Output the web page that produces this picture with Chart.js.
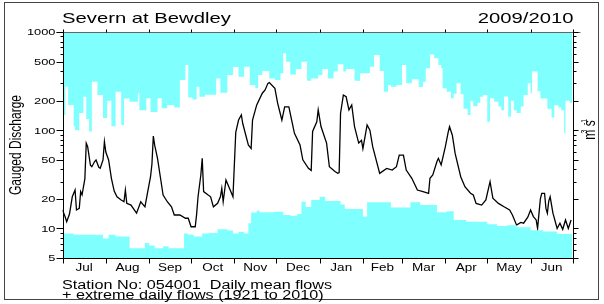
<!DOCTYPE html>
<html>
<head>
<meta charset="utf-8">
<script src="https://cdn.jsdelivr.net/npm/chart.js@4.4.1/dist/chart.umd.min.js"></script>
<style>
  body { margin: 0; background: #fff; }
</style>
</head>
<body>
<canvas id="chart" width="604" height="304"></canvas>
<script>
const monthLabels = ['Jul', 'Aug', 'Sep', 'Oct', 'Nov', 'Dec', 'Jan', 'Feb', 'Mar', 'Apr', 'May', 'Jun'];
const monthDays = [31, 31, 30, 31, 30, 31, 31, 28, 31, 30, 31, 30];
const yLabels = [5, 10, 20, 50, 100, 200, 500, 1000];
const yMinor = [6, 7, 8, 9, 30, 40, 60, 70, 80, 90, 300, 400, 600, 700, 800, 900];

// daily mean flow (day of water year, m3/s)
const meanDay = [0, 2, 3, 5, 7, 9, 10, 12, 13, 14, 16, 17, 18, 20, 21, 23, 24, 26, 27, 29, 30, 31, 33, 35, 37, 39, 42, 44, 45, 46, 49, 53, 56, 59, 61, 63, 64, 65, 66, 68, 70, 72, 75, 78, 80, 84, 88, 90, 92, 95, 96, 97, 99, 100, 101, 104, 106, 108, 111, 113, 114, 115, 117, 120, 122, 124, 126, 128, 129, 133, 135, 136, 139, 143, 145, 147, 148, 152, 154, 157, 159, 162, 164, 166, 170, 172, 176, 178, 179, 182, 183, 185, 189, 191, 195, 197, 198, 199, 201, 203, 205, 207, 209, 212, 214, 215, 218, 220, 222, 227, 232, 236, 239, 241, 244, 246, 250, 254, 258, 262, 263, 265, 268, 269, 271, 274, 276, 277, 279, 281, 285, 288, 292, 294, 296, 300, 303, 305, 306, 308, 312, 316, 320, 322, 325, 328, 330, 333, 335, 337, 339, 340, 342, 343, 345, 346, 347, 348, 349, 351, 354, 356, 358, 360, 362, 364];
const meanFlow = [15.4, 13, 11.7, 14, 21, 24.6, 15.4, 16, 23.7, 22, 32, 73.6, 68, 44, 42.5, 48, 49.8, 42, 41, 49.8, 76.4, 60, 49.8, 32.4, 24, 21, 19.5, 18.7, 24.6, 18, 17.3, 14.3, 18.7, 16.6, 23.7, 33.6, 45, 87, 70, 51.7, 33.6, 21.9, 18.7, 16.6, 13.7, 13.7, 12.7, 12.7, 10.4, 10.4, 14, 21, 35, 51.7, 23.7, 22, 21, 16.6, 18, 21, 25.6, 18.7, 31.1, 24.6, 21, 95, 127, 143, 117, 70.7, 65, 127, 181, 238, 257, 300, 305, 267, 188, 127, 173, 173, 127, 93, 70.7, 50, 41, 39, 97, 122, 161, 109, 74, 42.5, 38, 36.4, 37, 149, 228, 219, 161, 181, 109, 74, 79, 65, 113, 100, 68, 36.4, 40.9, 39.3, 42.5, 55.9, 55.9, 39.3, 32.4, 24.6, 23.7, 22.8, 32.4, 35, 48, 51.7, 44.3, 68, 95, 108.6, 89, 58, 33.6, 26.6, 22.8, 21.9, 18, 17.3, 19.5, 26, 29.9, 20.3, 18, 16.6, 15.4, 13.7, 10.8, 11.5, 11.3, 13, 15.4, 13.2, 12.2, 10, 20, 22.8, 22.8, 16, 14.3, 19, 21, 14.3, 10, 11.3, 9.8, 12.2, 10, 12.2];

// extreme daily flows 1921-2010
const maxDay = [0, 2, 4, 8, 9, 12, 15, 17, 19, 21, 25, 29, 32, 35, 38, 42, 44, 48, 54, 55, 60, 63, 68, 71, 75, 80, 84, 88, 90, 93, 96, 98, 102, 110, 113, 118, 122, 126, 130, 134, 138, 140, 143, 148, 152, 156, 158, 160, 163, 167, 171, 175, 178, 183, 186, 190, 194, 197, 201, 203, 209, 213, 216, 220, 223, 227, 230, 233, 235, 239, 243, 246, 250, 255, 258, 260, 263, 266, 269, 271, 272, 275, 278, 280, 282, 285, 287, 290, 292, 294, 297, 299, 301, 304, 306, 309, 312, 314, 316, 319, 321, 323, 325, 328, 330, 333, 335, 336, 340, 342, 347, 350, 352, 355, 357, 359, 360, 363, 365];
const maxFlow = [143, 277, 181, 110, 100, 150, 219, 130, 97, 312, 228, 133, 200, 110, 247, 113, 210, 195, 238, 160, 211, 153, 211, 167, 181, 170, 324, 461, 215, 205, 277, 219, 230, 337, 240, 365, 440, 350, 443, 288, 267, 365, 400, 337, 324, 380, 607, 498, 370, 420, 498, 318, 337, 365, 420, 337, 395, 470, 395, 420, 318, 380, 380, 443, 583, 400, 247, 288, 277, 288, 461, 300, 330, 275, 312, 427, 590, 540, 461, 427, 267, 247, 211, 235, 300, 233, 165, 143, 200, 175, 190, 219, 228, 122, 211, 195, 174, 160, 220, 137, 200, 160, 150, 174, 228, 300, 238, 395, 250, 210, 165, 135, 180, 170, 160, 93, 200, 190, 228];
const minDay = [0, 8, 29, 33, 38, 48, 59, 62, 66, 72, 76, 87, 90, 94, 100, 105, 111, 118, 122, 126, 130, 133, 135, 139, 141, 151, 158, 163, 168, 171, 174, 178, 184, 188, 199, 202, 215, 218, 222, 235, 249, 256, 268, 275, 280, 289, 299, 304, 311, 318, 325, 335, 344, 354, 365];
const minFlow = [8.9, 8.6, 7.9, 8.6, 8.3, 6.3, 7.1, 6.7, 6.3, 6.6, 6.3, 8.9, 8.6, 8.3, 8.9, 9.0, 9.8, 9.5, 8.9, 9.2, 8.9, 11.3, 14.5, 15.2, 14.6, 14.8, 13.7, 13.5, 14.0, 18.7, 16.5, 19.5, 21, 19, 17.5, 15.8, 13.2, 18.5, 18.5, 16.3, 18.5, 17.3, 14.6, 15, 12.2, 11.7, 11.7, 11, 10.6, 10.8, 10.3, 9.6, 9.3, 8.8, 8.5];

const pts = (xs, ys) => xs.map((d, i) => ({ x: d, y: ys[i] }));

const monthStart = [0];
monthDays.forEach((n, i) => monthStart.push(monthStart[i] + n));
const monthMid = monthDays.map((n, i) => monthStart[i] + n / 2);

const CYAN = '#80ffff';
const FONT = '"Liberation Sans", Arial, sans-serif';
const SX = 1.35; // text in the original is drawn wide

// text drawn wider than tall, like the reference
function wideText(ctx, text, x, y, size, align) {
  ctx.save();
  ctx.font = size + 'px ' + FONT;
  ctx.translate(x, y);
  ctx.scale(SX, 1);
  ctx.textAlign = align;
  ctx.fillText(text, 0, 0);
  ctx.restore();
}

const decor = {
  id: 'decor',
  afterDraw(chart) {
    const { ctx, chartArea: { left, right, top, bottom }, scales: { x, y } } = chart;
    const L = Math.round(left) + 0.5;
    const R = Math.round(right) + 0.5;
    const T = Math.round(top) + 0.5;
    const B = Math.round(bottom) + 0.5;
    ctx.save();
    ctx.lineWidth = 1;

    // outer frame
    ctx.strokeStyle = '#444';
    ctx.strokeRect(4.5, 2.5, 594, 297);

    // plot frame
    ctx.strokeStyle = '#666';
    ctx.beginPath();
    ctx.moveTo(L - 7, T);
    ctx.lineTo(R + 7, T);
    ctx.stroke();
    ctx.strokeStyle = '#000';
    ctx.beginPath();
    ctx.moveTo(L, T);
    ctx.lineTo(L, B);
    ctx.moveTo(R, T);
    ctx.lineTo(R, B);
    ctx.moveTo(L, B);
    ctx.lineTo(R, B);

    // y ticks, both sides
    yLabels.concat(yMinor).forEach(v => {
      const py = Math.round(y.getPixelForValue(v)) + 0.5;
      const len = yLabels.includes(v) ? 7 : 3;
      ctx.moveTo(L - len, py);
      ctx.lineTo(L, py);
      ctx.moveTo(R, py);
      ctx.lineTo(R + (yLabels.includes(v) ? 5 : 3), py);
    });
    // month ticks top and bottom
    monthStart.forEach(d => {
      const px = Math.round(x.getPixelForValue(d)) + 0.5;
      ctx.moveTo(px, T - 3);
      ctx.lineTo(px, T);
      ctx.moveTo(px, B);
      ctx.lineTo(px, B + 5);
    });
    ctx.stroke();

    ctx.fillStyle = '#000';
    ctx.textBaseline = 'alphabetic';

    // y tick labels
    yLabels.forEach(v => {
      wideText(ctx, String(v), L - 8, y.getPixelForValue(v) + 3.3, 9.5, 'right');
    });
    // month labels
    monthLabels.forEach((m, i) => {
      wideText(ctx, m, x.getPixelForValue(monthMid[i]), B + 12, 10, 'center');
    });

    // titles and notes
    wideText(ctx, 'Severn at Bewdley', 62, 23, 15, 'left');
    wideText(ctx, '2009/2010', R, 23, 15, 'right');
    wideText(ctx, 'Station No: 054001  Daily mean flows', 62, 289, 12, 'left');
    wideText(ctx, '+ extreme daily flows (1921 to 2010)', 62, 299, 12, 'left');

    // axis titles, rotated
    ctx.save();
    ctx.translate(21, (top + bottom) / 2);
    ctx.scale(SX, 1);
    ctx.rotate(-Math.PI / 2);
    ctx.textAlign = 'center';
    ctx.font = '12px ' + FONT;
    ctx.fillText('Gauged Discharge', 0, 0);
    ctx.restore();

    ctx.save();
    ctx.translate(595, 130);
    ctx.scale(SX, 1);
    ctx.rotate(-Math.PI / 2);
    ctx.textAlign = 'center';
    ctx.font = '12px ' + FONT;
    ctx.fillText('m s', 0, 0);
    ctx.font = '7px ' + FONT;
    ctx.fillText('3', -1.5, -6);
    ctx.fillText('-1', 8, -6);
    ctx.restore();

    ctx.restore();
  }
};

new Chart(document.getElementById('chart'), {
  type: 'line',
  data: {
    datasets: [
      {
        data: pts(maxDay, maxFlow),
        stepped: 'before',
        borderWidth: 0,
        backgroundColor: CYAN,
        fill: 'end',
        pointRadius: 0
      },
      {
        data: pts(minDay, minFlow),
        stepped: 'before',
        borderWidth: 0,
        backgroundColor: CYAN,
        fill: 'start',
        pointRadius: 0
      },
      {
        data: pts(meanDay, meanFlow),
        borderColor: '#000',
        borderWidth: 1.3,
        fill: false,
        pointRadius: 0,
        tension: 0
      }
    ]
  },
  options: {
    responsive: false,
    animation: false,
    layout: {
      padding: { left: 0, right: 0, top: 32, bottom: 0 }
    },
    plugins: {
      legend: { display: false },
      tooltip: { enabled: false }
    },
    scales: {
      x: {
        type: 'linear',
        min: 0,
        max: 365,
        grid: { display: false, drawTicks: false },
        border: { display: false },
        ticks: { display: false },
        afterFit: (scale) => {
          scale.height = 46;
        }
      },
      y: {
        type: 'logarithmic',
        position: 'left',
        min: 5,
        max: 1000,
        grid: { display: false, drawTicks: false },
        border: { display: false },
        ticks: { display: false },
        afterFit: (scale) => {
          scale.width = 62.5;
        }
      },
      y2: {
        type: 'logarithmic',
        position: 'right',
        min: 5,
        max: 1000,
        grid: { display: false, drawTicks: false },
        border: { display: false },
        ticks: { display: false },
        afterFit: (scale) => {
          scale.width = 31.5;
        }
      }
    }
  },
  plugins: [decor]
});
</script>
</body>
</html>
